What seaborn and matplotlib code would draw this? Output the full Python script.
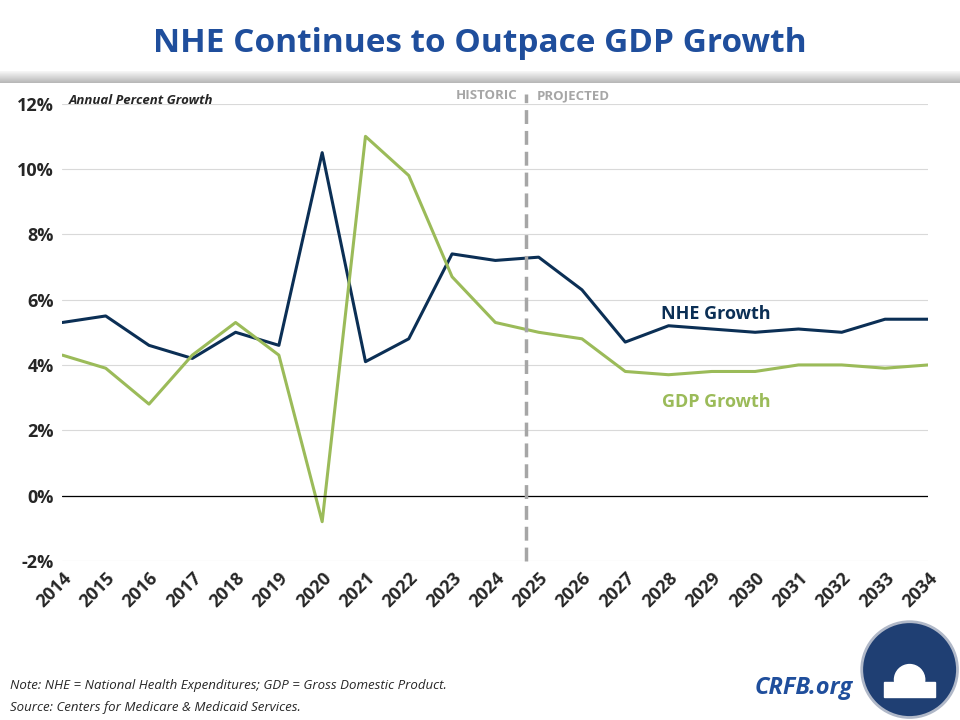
import matplotlib
matplotlib.use("Agg")
import matplotlib.pyplot as plt
import seaborn as sns
import pandas as pd
from matplotlib.patches import Circle, Rectangle

# -------------------------
# DATA
# -------------------------
years = list(range(2014, 2035))
nhe_growth = [5.3, 5.5, 4.6, 4.2, 5.0, 4.6, 10.5, 4.1, 4.8, 7.4, 7.2,
              7.3, 6.3, 4.7, 5.2, 5.1, 5.0, 5.1, 5.0, 5.4, 5.4]
gdp_growth = [4.3, 3.9, 2.8, 4.3, 5.3, 4.3, -0.8, 11.0, 9.8, 6.7, 5.3,
              5.0, 4.8, 3.8, 3.7, 3.8, 3.8, 4.0, 4.0, 3.9, 4.0]
yticks = [-2, 0, 2, 4, 6, 8, 10, 12]

df = pd.DataFrame({"year": years, "NHE": nhe_growth, "GDP": gdp_growth})

navy = "#0b2f55"
green = "#9bbb59"

sns.set_style("white")
plt.rcParams["font.family"] = ["Open Sans", "DejaVu Sans"]

fig = plt.figure(figsize=(9.6, 7.2), dpi=100)

# title band
band = fig.add_axes([0, 0.885, 1, 0.115])
band.axis("off")
band.add_patch(Rectangle((0, 0), 1, 1, color="white", transform=band.transAxes))
for i in range(12):
    band.add_patch(Rectangle((0, i * 0.012), 1, 0.012, transform=band.transAxes,
                             color=(0.72 + i * 0.022,) * 3, lw=0))
fig.text(0.5, 0.94, "NHE Continues to Outpace GDP Growth", ha="center", va="center",
         fontsize=24, fontweight="bold", color="#1f4e9c")

ax = fig.add_axes([0.065, 0.221, 0.902, 0.635])
sns.lineplot(data=df, x="year", y="NHE", color=navy, lw=2.2, ax=ax)
sns.lineplot(data=df, x="year", y="GDP", color=green, lw=2.2, ax=ax)

ax.set_xlim(2014, 2034)
ax.set_ylim(-2, 12)
ax.set_yticks(yticks)
ax.set_yticklabels([f"{v}%" for v in yticks], fontsize=13, fontweight="bold")
ax.set_xticks(years)
ax.set_xticklabels([str(y) for y in years], rotation=45, ha="right",
                   rotation_mode="anchor", fontsize=13, fontweight="bold")
ax.tick_params(axis="both", length=0, pad=6)
ax.grid(axis="y", color="#d9d9d9", lw=0.8)
ax.axhline(0, color="black", lw=0.9)
for s in ax.spines.values():
    s.set_visible(False)
ax.set_xlabel("")
ax.set_ylabel("")

ax.plot([2024.7, 2024.7], [-2, 12.3], color="#a6a6a6", lw=2.5, ls=(0, (4, 2)),
        clip_on=False)
ax.text(2024.5, 12.25, "HISTORIC", ha="right", va="center", fontsize=9.5,
        color="#a6a6a6", fontweight="bold")
ax.text(2024.95, 12.25, "PROJECTED", ha="left", va="center", fontsize=9.5,
        color="#a6a6a6", fontweight="bold")
ax.text(2014.15, 12.1, "Annual Percent Growth", ha="left", va="center",
        fontsize=9.5, style="italic", fontweight="bold")

ax.text(2029.1, 5.55, "NHE Growth", ha="center", va="center", fontsize=13,
        fontweight="bold", color=navy)
ax.text(2029.1, 2.85, "GDP Growth", ha="center", va="center", fontsize=13,
        fontweight="bold", color=green)

fig.text(0.01, 0.043, "Note: NHE = National Health Expenditures; GDP = Gross Domestic Product.",
         fontsize=9.5, style="italic")
fig.text(0.01, 0.013, "Source: Centers for Medicare & Medicaid Services.",
         fontsize=9.5, style="italic")
fig.text(0.888, 0.045, "CRFB.org", ha="right", va="center", fontsize=17,
         fontweight="bold", style="italic", color="#1f4e9c")

logo = fig.add_axes([0.895, 0.0, 0.105, 0.14])
logo.axis("off")
logo.set_aspect("equal")
logo.set_xlim(-1, 1)
logo.set_ylim(-1, 1)
logo.add_patch(Circle((0, 0), 0.95, color="#1f3f73", ec="#b0b8c8", lw=2))
logo.add_patch(Rectangle((-0.5, -0.55), 1.0, 0.3, color="white"))
logo.add_patch(Circle((0, -0.2), 0.3, color="white"))

fig.savefig("out.png", dpi=100)
plt.close()
